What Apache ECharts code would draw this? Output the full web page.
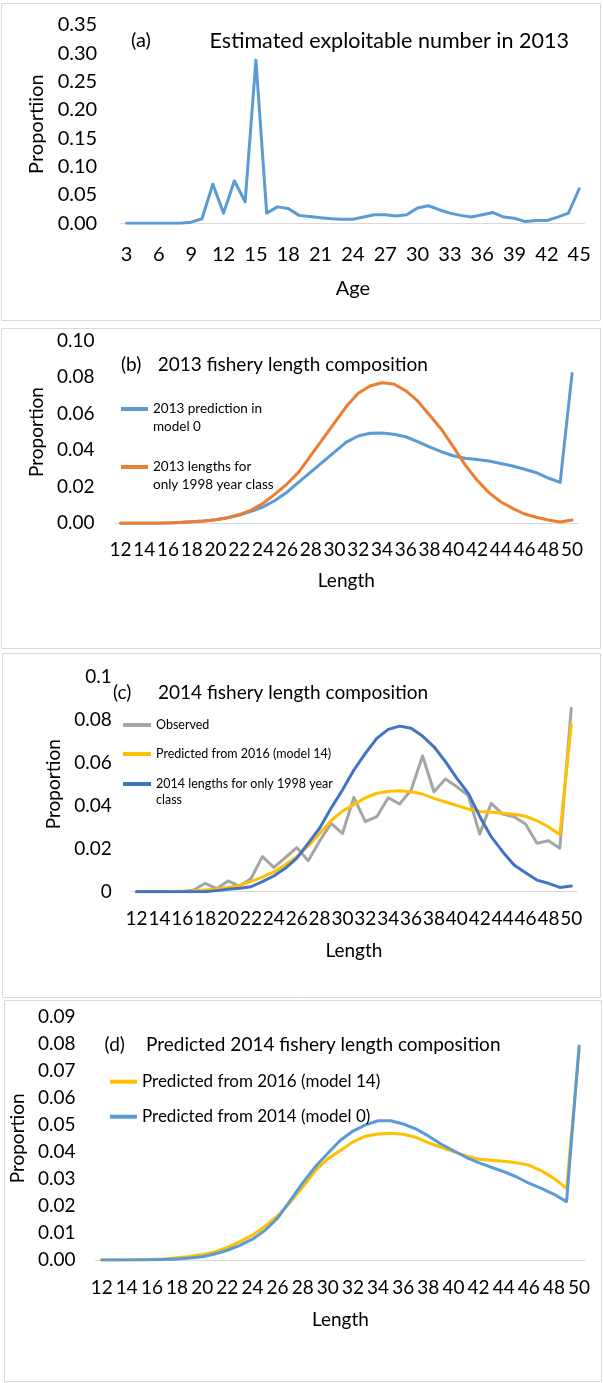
<!DOCTYPE html>
<html>
<head>
<meta charset="utf-8">
<script src="https://cdn.jsdelivr.net/npm/echarts@6/dist/echarts.min.js"></script>
<style>
  html, body { margin: 0; padding: 0; background: #ffffff; }
  #chart { width: 603px; height: 1383px; }
</style>
</head>
<body>
<div id="chart"></div>
<script>
// ---- data ----
const ageCategories = ['3','4','5','6','7','8','9','10','11','12','13','14','15','16','17','18','19','20','21','22','23','24','25','26','27','28','29','30','31','32','33','34','35','36','37','38','39','40','41','42','43','44','45'];
const exploitable2013 = [0,0,0,0,0,0,0.002,0.008,0.069,0.018,0.075,0.038,0.288,0.018,0.029,0.026,0.014,0.012,0.010,0.008,0.007,0.007,0.011,0.015,0.015,0.013,0.015,0.027,0.031,0.024,0.018,0.014,0.011,0.015,0.019,0.011,0.009,0.003,0.005,0.005,0.011,0.018,0.061];

const lengthCategories = ['12','13','14','15','16','17','18','19','20','21','22','23','24','25','26','27','28','29','30','31','32','33','34','35','36','37','38','39','40','41','42','43','44','45','46','47','48','49','50'];

// (b) 2013 fishery length composition
const pred2013Model0 = [0,0,0,0,0.0002,0.0004,0.0008,0.0013,0.002,0.003,0.0045,0.0065,0.009,0.0125,0.017,0.0225,0.028,0.0335,0.039,0.0445,0.0478,0.0493,0.0495,0.0488,0.0474,0.0447,0.0418,0.0392,0.037,0.0356,0.035,0.0341,0.0328,0.0314,0.0296,0.0277,0.0248,0.0224,0.082];
const lengths2013Class1998 = [0,0,0,0,0.0002,0.0004,0.0008,0.0013,0.002,0.003,0.0048,0.0072,0.011,0.016,0.0215,0.028,0.037,0.046,0.055,0.0639,0.0712,0.0752,0.077,0.0763,0.0726,0.067,0.0593,0.0515,0.042,0.032,0.0237,0.0168,0.0118,0.0082,0.0051,0.0033,0.0018,0.0007,0.0018];

// (c) 2014 fishery length composition
const observed2014 = [0,0,0,0,0,0.0008,0.0039,0.0014,0.005,0.0026,0.006,0.0163,0.0113,0.0158,0.0205,0.0144,0.0235,0.0318,0.0271,0.0439,0.0326,0.0349,0.0437,0.0408,0.0473,0.0631,0.0465,0.0524,0.0488,0.0447,0.0268,0.0411,0.0361,0.0349,0.0315,0.0225,0.0237,0.0202,0.0853];
const predFrom2016Model14 = [0,0,0,0.0001,0.0002,0.0004,0.0008,0.0013,0.002,0.003,0.0047,0.0068,0.0092,0.0125,0.0163,0.0213,0.027,0.033,0.0375,0.0405,0.0437,0.0458,0.0466,0.0469,0.0465,0.0454,0.0434,0.0417,0.0401,0.0385,0.0373,0.0369,0.0365,0.036,0.0351,0.033,0.0302,0.0265,0.0777];
const lengths2014Class1998 = [0,0,0,0,0,0,0,0.0005,0.0011,0.0016,0.0023,0.0047,0.0073,0.0109,0.0155,0.0225,0.0295,0.0388,0.0473,0.0566,0.0643,0.0713,0.0755,0.077,0.076,0.0724,0.0674,0.0605,0.0527,0.0457,0.035,0.0256,0.0186,0.0124,0.0088,0.0054,0.0039,0.002,0.0026];

// (d) predicted 2014 fishery length composition
const predFrom2014Model0 = [0,0,0,0,0.0001,0.0002,0.0004,0.0007,0.0012,0.0022,0.0036,0.0054,0.0077,0.011,0.0155,0.022,0.0285,0.0345,0.0395,0.0443,0.0477,0.05,0.0515,0.0515,0.0503,0.0485,0.0459,0.0429,0.0404,0.038,0.036,0.0343,0.0327,0.0308,0.0284,0.0265,0.0243,0.0216,0.0792];

// ---- styling ----
const FONT = 'Lato, "Noto Sans", sans-serif';
const INK = '#000000';
const AXIS_GREY = '#d9d9d9';
const C_LIGHTBLUE = '#5b9bd5';
const C_ORANGE = '#ed7d31';
const C_GREY = '#a5a5a5';
const C_GOLD = '#ffc000';
const C_BLUE = '#4472c4';

const grids = [
  { left: 121.2, top: 25, width: 463.4, height: 198.3 },
  { left: 114.6, top: 340.7, width: 463.4, height: 182.6 },
  { left: 130.8, top: 676.7, width: 446.2, height: 215 },
  { left: 90.4, top: 1016.7, width: 495, height: 243.3 }
];

function xAxisFor(gi, cats, interval, fontSize, margin, name, nameGap) {
  return {
    type: 'category', gridIndex: gi, data: cats, boundaryGap: true,
    axisLine: { show: true, lineStyle: { color: AXIS_GREY, width: 1 } },
    axisTick: { show: false },
    axisLabel: { interval: interval, color: INK, fontFamily: FONT, fontSize: fontSize, margin: margin },
    splitLine: { show: false },
    name: name, nameLocation: 'middle', nameGap: nameGap,
    nameTextStyle: { color: INK, fontFamily: FONT, fontSize: fontSize }
  };
}
function yAxisFor(gi, max, interval, fmt, fontSize, margin, name, nameGap) {
  return {
    type: 'value', gridIndex: gi, min: 0, max: max, interval: interval,
    axisLine: { show: false }, axisTick: { show: false },
    splitLine: { show: false },
    axisLabel: { color: INK, fontFamily: FONT, fontSize: fontSize, margin: margin, formatter: fmt },
    name: name, nameLocation: 'middle', nameGap: nameGap, nameRotate: 90,
    nameTextStyle: { color: INK, fontFamily: FONT, fontSize: fontSize }
  };
}
function lineSeries(name, gi, data, color, z) {
  return {
    type: 'line', name: name, xAxisIndex: gi, yAxisIndex: gi, data: data,
    showSymbol: false, symbol: 'none', smooth: false, z: z,
    color: color,
    lineStyle: { color: color, width: 3, join: 'round', cap: 'round' },
    emphasis: { disabled: true }, silent: true, animation: false
  };
}
// One legend entry per component so each key sits where it belongs.
// A leading blank line keeps the key level with the first line of a wrapped label.
function legendItem(name, left, top, itemWidth, fontSize, lineHeight, text, twoLines) {
  return {
    data: [name], left: left, top: top, orient: 'vertical', padding: 0,
    icon: 'rect', itemWidth: itemWidth, itemHeight: 4, itemGap: 0,
    selectedMode: false,
    formatter: function () { return twoLines ? '\n' + text : text; },
    textStyle: { color: INK, fontFamily: FONT, fontSize: fontSize, lineHeight: lineHeight }
  };
}
function titleText(text, left, top, fontSize) {
  return { text: text, left: left, top: top, padding: 0,
    textStyle: { color: INK, fontFamily: FONT, fontSize: fontSize, fontWeight: 'normal' } };
}
function panelBox(x1, y1, x2, y2) {
  return { type: 'rect', silent: true, z: -1,
    shape: { x: x1, y: y1, width: x2 - x1, height: y2 - y1 },
    style: { fill: null, stroke: AXIS_GREY, lineWidth: 1 } };
}

const fixed2 = v => v.toFixed(2);
const general = v => String(+v.toFixed(2));

const option = {
  animation: false,
  backgroundColor: '#ffffff',
  graphic: [
    panelBox(1.5, 3.5, 600.5, 320.5),
    panelBox(1.5, 328.5, 600.5, 648.5),
    panelBox(2.5, 653.5, 600.5, 997.5),
    panelBox(4.5, 1000.5, 601.5, 1381.5)
  ],
  title: [
    titleText('(a)', 131, 31, 20),
    titleText('Estimated exploitable number in 2013', 209.6, 30, 21.5),
    titleText('(b)', 121, 355, 19),
    titleText('2013 fishery length composition', 157.7, 355, 19),
    titleText('(c)', 113, 683, 19),
    titleText('2014 fishery length composition', 158, 683, 19),
    titleText('(d)', 104.6, 1035, 19),
    titleText('Predicted 2014 fishery length composition', 146, 1035, 19)
  ],
  legend: [
    legendItem('2013 prediction in model 0', 121, 382, 27, 13.5, 18, '2013 prediction in\nmodel 0', true),
    legendItem('2013 lengths for only 1998 year class', 121, 440.75, 27, 13.5, 17.5, '2013 lengths for\nonly 1998 year class', true),
    legendItem('Observed', 123, 717, 28, 12.5, 16, 'Observed', false),
    legendItem('Predicted from 2016 (model 14)', 123, 746, 28, 12.5, 16, 'Predicted from 2016 (model 14)', false),
    legendItem('2014 lengths for only 1998 year class', 123, 760, 28, 12.5, 16, '2014 lengths for only 1998 year\nclass', true),
    legendItem('Predicted from 2016 (model 14) ', 110, 1071.7, 27, 17, 20, 'Predicted from 2016 (model 14)', false),
    legendItem('Predicted from 2014 (model 0)', 110, 1106.7, 27, 17, 20, 'Predicted from 2014 (model 0)', false)
  ],
  grid: grids,
  xAxis: [
    xAxisFor(0, ageCategories, 2, 20, 21, 'Age', 55),
    xAxisFor(1, lengthCategories, 1, 19, 17, 'Length', 48),
    xAxisFor(2, lengthCategories, 1, 19, 18, 'Length', 50),
    xAxisFor(3, lengthCategories, 1, 19, 18, 'Length', 50)
  ],
  yAxis: [
    yAxisFor(0, 0.35, 0.05, fixed2, 20, 24, 'Proportiion', 72),
    yAxisFor(1, 0.10, 0.02, fixed2, 19, 20, 'Proportion', 62),
    yAxisFor(2, 0.10, 0.02, general, 19, 19, 'Proportion', 62),
    yAxisFor(3, 0.09, 0.01, fixed2, 19, 20, 'Proportion', 60)
  ],
  series: [
    lineSeries('Estimated exploitable number in 2013', 0, exploitable2013, C_LIGHTBLUE, 2),
    lineSeries('2013 prediction in model 0', 1, pred2013Model0, C_LIGHTBLUE, 2),
    lineSeries('2013 lengths for only 1998 year class', 1, lengths2013Class1998, C_ORANGE, 3),
    lineSeries('Observed', 2, observed2014, C_GREY, 2),
    lineSeries('Predicted from 2016 (model 14)', 2, predFrom2016Model14, C_GOLD, 3),
    lineSeries('2014 lengths for only 1998 year class', 2, lengths2014Class1998, C_BLUE, 4),
    lineSeries('Predicted from 2016 (model 14) ', 3, predFrom2016Model14, C_GOLD, 2),
    lineSeries('Predicted from 2014 (model 0)', 3, predFrom2014Model0, C_LIGHTBLUE, 3)
  ]
};

const chart = echarts.init(document.getElementById('chart'), null, { renderer: 'canvas' });
chart.setOption(option);
</script>
</body>
</html>
